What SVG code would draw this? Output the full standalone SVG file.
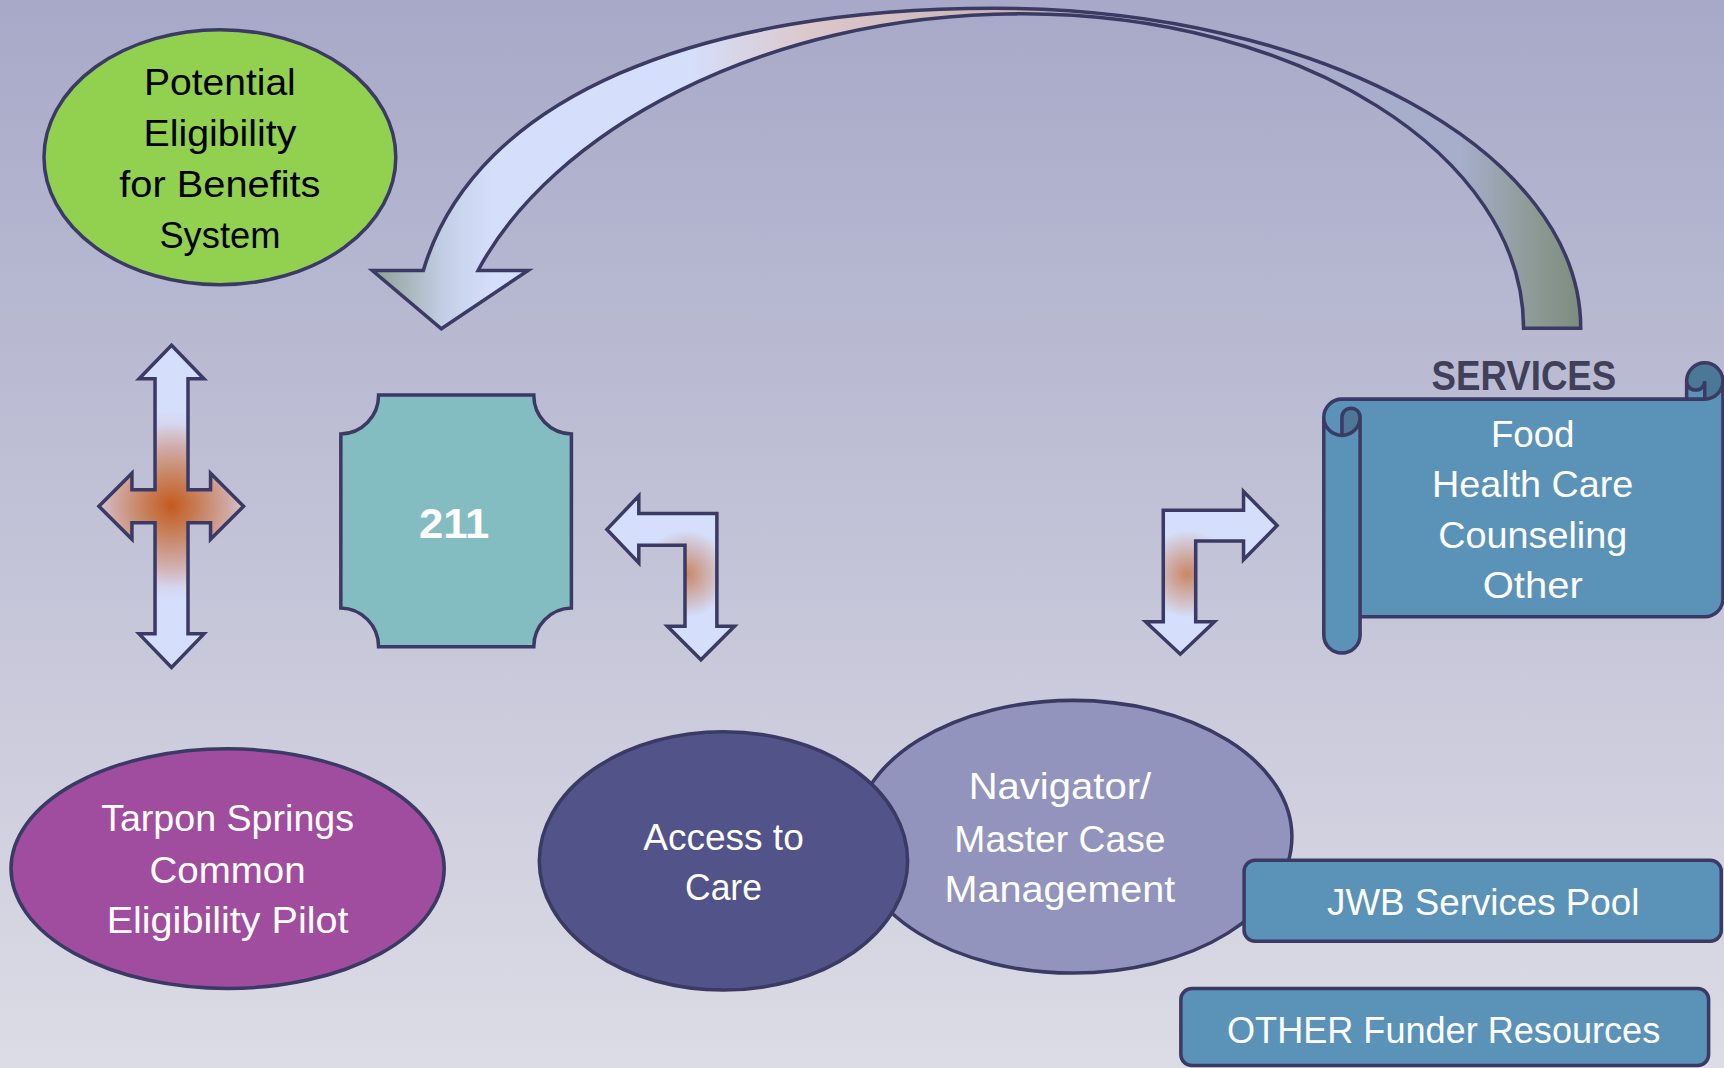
<svg xmlns="http://www.w3.org/2000/svg" width="1724" height="1068" viewBox="0 0 1724 1068">
<defs>
<style>
.ol{stroke:#3b3a64;stroke-width:3.2;stroke-linejoin:miter}
.t{font-family:"Liberation Sans",Arial,sans-serif;font-size:34px;text-anchor:middle}
.w{fill:#ffffff}
.k{fill:#000000}
</style>
<linearGradient id="bg" x1="0" y1="0" x2="0" y2="1">
<stop offset="0" stop-color="#a8a9c8"/>
<stop offset="1" stop-color="#dcdce6"/>
</linearGradient>
<linearGradient id="arc" gradientUnits="userSpaceOnUse" x1="338" y1="0" x2="1438" y2="0">
<stop offset="0" stop-color="#8c9e92"/>
<stop offset="0.06" stop-color="#c4cfe6"/>
<stop offset="0.1" stop-color="#d5dffc"/>
<stop offset="0.26" stop-color="#d5dffc"/>
<stop offset="0.36" stop-color="#dcc8cc"/>
<stop offset="0.55" stop-color="#c6b0b4"/>
<stop offset="0.68" stop-color="#a9accb"/>
<stop offset="0.9" stop-color="#a6aecb"/>
<stop offset="0.96" stop-color="#8e9a96"/>
<stop offset="1" stop-color="#7d8c7e"/>
</linearGradient>
<radialGradient id="cross" gradientUnits="userSpaceOnUse" cx="156" cy="460" r="88">
<stop offset="0" stop-color="#c45a1e"/>
<stop offset="0.3" stop-color="#c8825e"/>
<stop offset="0.6" stop-color="#d0aaa6"/>
<stop offset="0.85" stop-color="#d5d6f0"/>
<stop offset="1" stop-color="#d5dffc"/>
</radialGradient>
<radialGradient id="glowL" gradientUnits="userSpaceOnUse" cx="624" cy="522" r="40">
<stop offset="0" stop-color="#c8764a" stop-opacity="0.85"/>
<stop offset="1" stop-color="#c8764a" stop-opacity="0"/>
</radialGradient>
<radialGradient id="glowR" gradientUnits="userSpaceOnUse" cx="1080" cy="522" r="40">
<stop offset="0" stop-color="#c8764a" stop-opacity="0.85"/>
<stop offset="1" stop-color="#c8764a" stop-opacity="0"/>
</radialGradient>
<polygon id="bentL" points="552,481.5 581,451 581,467 652,467 652,569.5 668,569.5 637.5,600 607,569.5 623,569.5 623,496 581,496 581,512"/>
<polygon id="bentR" points="1058,464 1131,464 1131,447 1161.5,478 1131,509 1131,492 1087.5,492 1087.5,565.5 1104.5,565.5 1073.5,595 1042,565.5 1058,565.5"/>
</defs>
<rect x="0" y="0" width="1724" height="1068" fill="url(#bg)"/>
<g transform="scale(1.0995)">
<g id="connectors">
<path id="loop-arrow" class="ol" fill="url(#arc)" d="M 1437.7,298.6 C 1437.7,137.9 1198.8,7.6 904,7.6 C 640,7.6 432.5,86 385,246 L 338.7,246 L 401.4,299 L 480.3,246 L 434.8,246 C 500.5,122.4 690,12.5 930,12.5 C 1181.7,12.5 1385.7,140.6 1385.7,298.6 Z"/>
<polygon id="cross-arrow" class="ol" fill="url(#cross)" points="156,314 185.5,344.5 171,344.5 171,445.5 191.5,445.5 191.5,430.5 221.5,460.5 191.5,490.5 191.5,475.5 171,475.5 171,576.5 185.5,576.5 156,607 126.5,576.5 141,576.5 141,475.5 120,475.5 120,490.5 90,460.5 120,430.5 120,445.5 141,445.5 141,344.5 126.5,344.5"/>
<g id="bent-arrow-left">
<use href="#bentL" fill="#d5dffc"/>
<use href="#bentL" fill="url(#glowL)"/>
<use href="#bentL" fill="none" class="ol"/>
</g>
<g id="bent-arrow-right">
<use href="#bentR" fill="#d5dffc"/>
<use href="#bentR" fill="url(#glowR)"/>
<use href="#bentR" fill="none" class="ol"/>
</g>
</g>
<g id="node-eligibility">
<ellipse cx="200" cy="143" rx="160" ry="116" fill="#92d050" class="ol"/>
<text class="t k" x="200" y="86.5" textLength="138" lengthAdjust="spacingAndGlyphs">Potential</text>
<text class="t k" x="200" y="133" textLength="139" lengthAdjust="spacingAndGlyphs">Eligibility</text>
<text class="t k" x="200" y="179" textLength="183" lengthAdjust="spacingAndGlyphs">for Benefits</text>
<text class="t k" x="200" y="226" textLength="110" lengthAdjust="spacingAndGlyphs">System</text>
</g>
<g id="node-211">
<path class="ol" fill="#84bdc1" d="M 344.3,359.3 H 485.5 A 35 35 0 0 0 519.7,394.7 V 553 A 35 35 0 0 0 485.5,588.2 H 344.3 A 35 35 0 0 0 310,553 V 394.7 A 35 35 0 0 0 344.3,359.3 Z"/>
<text x="413" y="489.5" fill="#ffffff" font-family="'Liberation Sans',Arial,sans-serif" font-weight="bold" font-size="38" text-anchor="middle" textLength="64" lengthAdjust="spacingAndGlyphs">211</text>
</g>
<g id="node-services">
<path fill="#5b93b8" d="M 1567,346.5 A 16.5 16.5 0 0 1 1550.5,363 L 1550.5,346.5 A 8.25 8.25 0 0 1 1534,346.5 L 1534,363 L 1220.5,363 A 16.5 16.5 0 0 0 1204,379.5 L 1204,577.5 A 16.5 16.5 0 0 0 1237,577.5 L 1237,561 L 1550.5,561 A 16.5 16.5 0 0 0 1567,544.5 Z"/>
<path fill="#4a7896" d="M 1220.5,396 A 16.5 16.5 0 0 0 1237,379.5 A 8.25 8.25 0 0 0 1220.5,379.5 Z M 1550.5,363 A 16.5 16.5 0 1 0 1534,346.5 A 8.25 8.25 0 0 0 1550.5,346.5 Z"/>
<path fill="none" class="ol" d="M 1204,379.5 A 16.5 16.5 0 0 1 1220.5,363 L 1534,363 L 1534,346.5 A 16.5 16.5 0 0 1 1567,346.5 L 1567,544.5 A 16.5 16.5 0 0 1 1550.5,561 L 1237,561 L 1237,577.5 A 16.5 16.5 0 0 1 1204,577.5 Z M 1534,363 L 1550.5,363 A 16.5 16.5 0 0 0 1567,346.5 M 1550.5,363 L 1550.5,346.5 A 8.25 8.25 0 0 1 1534,346.5 M 1220.5,396 L 1220.5,379.5 A 8.25 8.25 0 0 1 1237,379.5 A 16.5 16.5 0 0 1 1204,379.5 M 1237,379.5 L 1237,561"/>
<text x="1386" y="355" fill="#40405a" font-family="'Liberation Sans',Arial,sans-serif" font-weight="bold" font-size="38" text-anchor="middle" textLength="168" lengthAdjust="spacingAndGlyphs">SERVICES</text>
<text class="t w" x="1394" y="406.3" textLength="76" lengthAdjust="spacingAndGlyphs">Food</text>
<text class="t w" x="1394" y="452.3" textLength="183" lengthAdjust="spacingAndGlyphs">Health Care</text>
<text class="t w" x="1394" y="498.7" textLength="172" lengthAdjust="spacingAndGlyphs">Counseling</text>
<text class="t w" x="1394" y="544.2" textLength="91" lengthAdjust="spacingAndGlyphs">Other</text>
</g>
<g id="node-tarpon">
<ellipse cx="207" cy="790" rx="197" ry="109" fill="#a04c9f" class="ol"/>
<text class="t w" x="207" y="756" textLength="230" lengthAdjust="spacingAndGlyphs">Tarpon Springs</text>
<text class="t w" x="207" y="803" textLength="142" lengthAdjust="spacingAndGlyphs">Common</text>
<text class="t w" x="207" y="849" textLength="220" lengthAdjust="spacingAndGlyphs">Eligibility Pilot</text>
</g>
<g id="node-navigator">
<ellipse cx="976" cy="761" rx="199" ry="124" fill="#9394bd" class="ol"/>
<text class="t w" x="964" y="727" textLength="166" lengthAdjust="spacingAndGlyphs">Navigator/</text>
<text class="t w" x="964" y="774.5" textLength="192" lengthAdjust="spacingAndGlyphs">Master Case</text>
<text class="t w" x="964" y="820" textLength="210" lengthAdjust="spacingAndGlyphs">Management</text>
</g>
<g id="node-access">
<ellipse cx="658" cy="783" rx="167.5" ry="117.5" fill="#525388" class="ol"/>
<text class="t w" x="658" y="773" textLength="146" lengthAdjust="spacingAndGlyphs">Access to</text>
<text class="t w" x="658" y="819" textLength="70" lengthAdjust="spacingAndGlyphs">Care</text>
</g>
<g id="node-jwb">
<rect x="1131.5" y="782.5" width="434" height="73.5" rx="10" fill="#5b93b8" class="ol"/>
<text class="t w" x="1349" y="832" textLength="284" lengthAdjust="spacingAndGlyphs">JWB Services Pool</text>
</g>
<g id="node-other">
<rect x="1074" y="899" width="480" height="70" rx="10" fill="#5b93b8" class="ol"/>
<text class="t w" x="1313" y="948.5" textLength="394" lengthAdjust="spacingAndGlyphs">OTHER Funder Resources</text>
</g>
</g>
</svg>
